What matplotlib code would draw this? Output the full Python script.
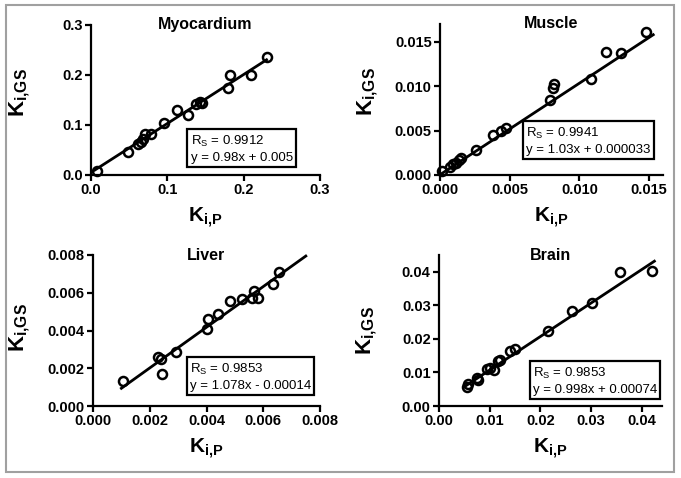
import matplotlib
matplotlib.use("Agg")
import matplotlib.pyplot as plt
import numpy as np
from matplotlib.patches import Rectangle

plt.rcParams['font.family'] = ['Liberation Sans', 'DejaVu Sans']
plt.rcParams['mathtext.fontset'] = 'custom'
plt.rcParams['mathtext.rm'] = 'Liberation Sans'
plt.rcParams['mathtext.it'] = 'Liberation Sans:italic'
plt.rcParams['mathtext.bf'] = 'Liberation Sans:bold'

# ---------------- data ----------------
myo_x = [0.008, 0.049, 0.062, 0.065, 0.068, 0.071, 0.079, 0.096, 0.113, 0.127, 0.138, 0.143, 0.145, 0.179, 0.182, 0.210, 0.230]
myo_y = [0.009, 0.047, 0.063, 0.067, 0.072, 0.083, 0.083, 0.105, 0.130, 0.121, 0.142, 0.147, 0.145, 0.175, 0.201, 0.200, 0.237]
myo_fit = (0.98, 0.005)
myo_fit_range = (0.005, 0.230)

mus_x = [0.00012, 0.0007, 0.00096, 0.00113, 0.00137, 0.0015, 0.0026, 0.0038, 0.0044, 0.0047, 0.0079, 0.0081, 0.0082, 0.0108, 0.0119, 0.0130, 0.0148]
mus_y = [0.0004, 0.0009, 0.00124, 0.0014, 0.0017, 0.0019, 0.0028, 0.0045, 0.0049, 0.0053, 0.0084, 0.0098, 0.0102, 0.0108, 0.0138, 0.0137, 0.0161]
mus_fit = (1.03, 0.000033)
mus_fit_range = (0.0, 0.0153)

liv_x = [0.00105, 0.00228, 0.0024, 0.00244, 0.00291, 0.0040, 0.00407, 0.0044, 0.00482, 0.00526, 0.00567, 0.0056, 0.0058, 0.00635, 0.00656]
liv_y = [0.00133, 0.0026, 0.0025, 0.00168, 0.00287, 0.0041, 0.0046, 0.00487, 0.00556, 0.00565, 0.0061, 0.00573, 0.0057, 0.00646, 0.00711]
liv_fit = (1.078, -0.00014)
liv_fit_range = (0.001, 0.0075)

bra_x = [0.00543, 0.0058, 0.0074, 0.0077, 0.0094, 0.0101, 0.0109, 0.0117, 0.0120, 0.0140, 0.0150, 0.0216, 0.0263, 0.0302, 0.0357, 0.0421]
bra_y = [0.0057, 0.0067, 0.0082, 0.0077, 0.0110, 0.0112, 0.0107, 0.0133, 0.0136, 0.0163, 0.0171, 0.0223, 0.0283, 0.0307, 0.0400, 0.0402]
bra_fit = (0.998, 0.00074)
bra_fit_range = (0.005, 0.0425)

titles = ["Myocardium", "Muscle", "Liver", "Brain"]
rs_values = ["0.9912", "0.9941", "0.9853", "0.9853"]
eq_texts = ["y = 0.98x + 0.005", "y = 1.03x + 0.000033", "y = 1.078x - 0.00014", "y = 0.998x + 0.00074"]

myo_ticks = [0.0, 0.1, 0.2, 0.3]
myo_labels = ["0.0", "0.1", "0.2", "0.3"]
mus_ticks = [0.0, 0.005, 0.010, 0.015]
mus_labels = ["0.000", "0.005", "0.010", "0.015"]
liv_ticks = [0.0, 0.002, 0.004, 0.006, 0.008]
liv_labels = ["0.000", "0.002", "0.004", "0.006", "0.008"]
bra_ticks = [0.0, 0.01, 0.02, 0.03, 0.04]
bra_labels = ["0.00", "0.01", "0.02", "0.03", "0.04"]

# ---------------- figure ----------------
W, H = 681, 478
fig = plt.figure(figsize=(W / 100, H / 100), dpi=100)

def px_axes(left, top, right, bottom):
    return fig.add_axes([left / W, 1 - bottom / H, (right - left) / W, (bottom - top) / H])

panels = [
    dict(rect=(91, 25, 320, 175), x=myo_x, y=myo_y, fit=myo_fit, fr=myo_fit_range,
         xlim=(0, 0.3), ylim=(0, 0.3), ticks=myo_ticks, labels=myo_labels,
         box=(0.435, 0.075), ylc=(-0.258, 0.55)),
    dict(rect=(440, 24, 663, 175), x=mus_x, y=mus_y, fit=mus_fit, fr=mus_fit_range,
         xlim=(0, 0.016), ylim=(0, 0.017), ticks=mus_ticks, labels=mus_labels,
         box=(0.385, 0.127), ylc=(-0.27, 0.55)),
    dict(rect=(93, 255, 320, 406), x=liv_x, y=liv_y, fit=liv_fit, fr=liv_fit_range,
         xlim=(0, 0.008), ylim=(0, 0.008), ticks=liv_ticks, labels=liv_labels,
         box=(0.427, 0.094), ylc=(-0.27, 0.52)),
    dict(rect=(439, 255, 662, 406), x=bra_x, y=bra_y, fit=bra_fit, fr=bra_fit_range,
         xlim=(0, 0.044), ylim=(0, 0.045), ticks=bra_ticks, labels=bra_labels,
         box=(0.421, 0.068), ylc=(-0.27, 0.50)),
]

for i, p in enumerate(panels):
    ax = px_axes(*p['rect'])
    ax.set_xlim(*p['xlim'])
    ax.set_ylim(*p['ylim'])
    for s in ['top', 'right']:
        ax.spines[s].set_visible(False)
    for s in ['left', 'bottom']:
        ax.spines[s].set_linewidth(1.6)
    ax.set_xticks(p['ticks'])
    ax.set_xticklabels(p['labels'])
    ax.set_yticks(p['ticks'])
    ax.set_yticklabels(p['labels'])
    ax.tick_params(direction='out', length=4, width=1.6, labelsize=10.5, pad=2)
    for lab in ax.get_xticklabels() + ax.get_yticklabels():
        lab.set_fontweight('bold')
    # fit line
    a, b = p['fit']
    xs = np.array(p['fr'])
    ax.plot(xs, a * xs + b, color='black', lw=2.0, zorder=2, clip_on=False)
    # points
    ax.plot(p['x'], p['y'], linestyle='none', marker='o', ms=6.5, mfc='none',
            mec='black', mew=1.8, zorder=3, clip_on=False)
    # title
    ax.text(0.5, 1.0, titles[i], transform=ax.transAxes, ha='center', va='center',
            fontsize=11.5, fontweight='bold')
    # labels
    ax.set_xlabel(r'$\mathbf{K}_{\mathbf{i{,}P}}$', fontsize=15, labelpad=6)
    ax.set_ylabel(r'$\mathbf{K}_{\mathbf{i{,}GS}}$', fontsize=16)
    ax.yaxis.set_label_coords(*p['ylc'])
    # annotation box
    bx, by = p['box']
    ax.text(bx, by, r'R$_\mathrm{S}$ = ' + rs_values[i] + '\n' + eq_texts[i],
            transform=ax.transAxes, ha='left', va='bottom', fontsize=9.5,
            linespacing=1.35,
            bbox=dict(boxstyle='square,pad=0.25', fc='white', ec='black', lw=1.6))

# outer frame
fig.patches.append(Rectangle((6 / W, 1 - 472 / H), (674 - 6) / W, (472 - 5) / H,
                             transform=fig.transFigure, fill=False,
                             edgecolor='#a0a0a0', lw=1.5))

fig.savefig('out.png', dpi=100)
